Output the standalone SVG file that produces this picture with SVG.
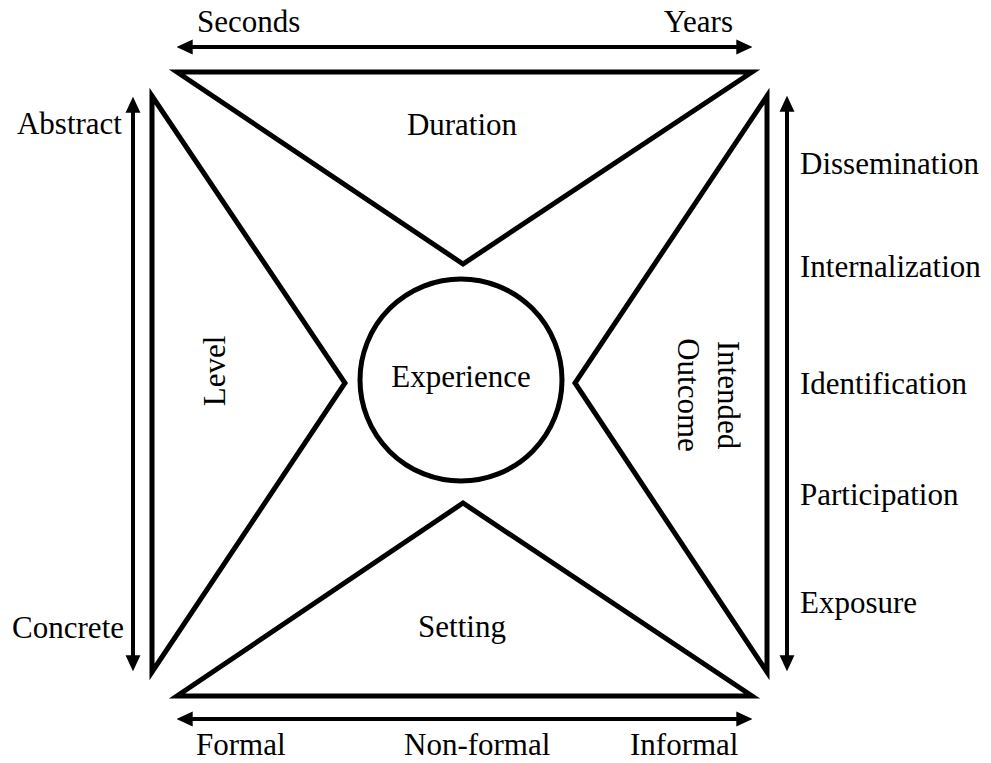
<svg xmlns="http://www.w3.org/2000/svg" width="991" height="763" viewBox="0 0 991 763">
<style>
.tri{fill:none;stroke:#000;stroke-width:5;stroke-linejoin:miter;stroke-miterlimit:10}
.ax{stroke:#000;stroke-width:4;fill:none}
text{font-family:"Liberation Serif","Times New Roman",serif;font-size:31px;fill:#000}
.m{text-anchor:middle}
.e{text-anchor:end}
</style>
<defs>
<marker id="ah" markerUnits="userSpaceOnUse" markerWidth="16" markerHeight="16" refX="10" refY="7" orient="auto-start-reverse" viewBox="0 0 15 14">
<path d="M0,0 L15,7 L0,14 z" fill="#000"/>
</marker>
</defs>
<rect width="991" height="763" fill="#fff"/>
<g id="connectors">
<line class="ax" x1="182" y1="47" x2="747" y2="47" marker-start="url(#ah)" marker-end="url(#ah)"/>
<line class="ax" x1="182" y1="719" x2="747" y2="719" marker-start="url(#ah)" marker-end="url(#ah)"/>
<line class="ax" x1="133" y1="102" x2="133" y2="666" marker-start="url(#ah)" marker-end="url(#ah)"/>
<line class="ax" x1="787" y1="101" x2="787" y2="666" marker-start="url(#ah)" marker-end="url(#ah)"/>
</g>
<g id="duration">
<polygon class="tri" points="177,72 752,72 463,264"/>
<text class="m" x="462" y="135">Duration</text>
</g>
<g id="level">
<polygon class="tri" points="152,96 345,383 152,672"/>
<text class="m" transform="translate(225,371) rotate(-90)">Level</text>
</g>
<g id="intended-outcome">
<polygon class="tri" points="767,96 575,383 767,672"/>
<text class="m" transform="translate(718,395) rotate(90)">Intended</text>
<text class="m" transform="translate(678,395) rotate(90)">Outcome</text>
</g>
<g id="setting">
<polygon class="tri" points="177,696 752,696 463,503"/>
<text class="m" x="462" y="637">Setting</text>
</g>
<g id="experience">
<circle cx="461" cy="380" r="101" fill="none" stroke="#000" stroke-width="5"/>
<text class="m" x="461" y="387">Experience</text>
</g>
<g id="labels">
<text x="197" y="32">Seconds</text>
<text class="e" x="733" y="32">Years</text>
<text class="e" x="122" y="134">Abstract</text>
<text class="e" x="124" y="638">Concrete</text>
<text x="800" y="174">Dissemination</text>
<text x="800" y="277">Internalization</text>
<text x="800" y="394">Identification</text>
<text x="800" y="505">Participation</text>
<text x="800" y="613">Exposure</text>
<text x="196" y="755">Formal</text>
<text x="404" y="755">Non-formal</text>
<text x="630" y="755">Informal</text>
</g>
</svg>
